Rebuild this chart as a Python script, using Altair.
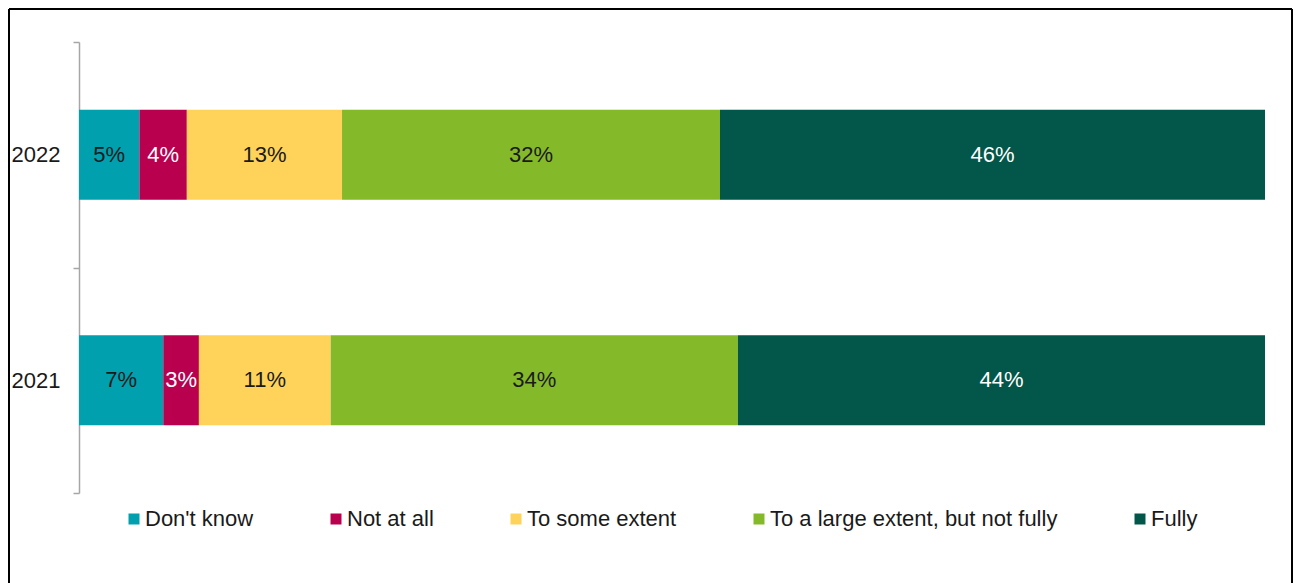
import altair as alt
import pandas as pd

years = ["2022", "2021"]
categories = ["Don't know", "Not at all", "To some extent", "To a large extent, but not fully", "Fully"]
values_2022 = [5.1, 4.0, 13.1, 31.9, 46.0]
values_2021 = [7.1, 3.0, 11.1, 34.3, 44.4]
colors = ["#00A0AF", "#B8004F", "#FFD35A", "#84B92A", "#03564A"]
white_text = ["Not at all", "Fully"]

rows = []
for yr, vals in zip(years, [values_2022, values_2021]):
    for i, (c, v) in enumerate(zip(categories, vals)):
        rows.append({"year": yr, "category": c, "value": v, "order": i})
df = pd.DataFrame(rows)

FONT = "Liberation Sans"
FS = 22
W, H = 1186, 451

base = alt.Chart(df).transform_stack(
    stack="value", groupby=["year"], as_=["x0", "x1"], offset="normalize",
    sort=[alt.SortField("order", order="ascending")]
).transform_calculate(
    mid="(datum.x0 + datum.x1) / 2",
    label="format(datum.value, '.0f') + '%'"
)

yenc = alt.Y("year:N", sort=years, title=None,
             scale=alt.Scale(paddingInner=0, paddingOuter=0),
             axis=alt.Axis(tickBand="extent", domainColor="#A6A6A6", tickColor="#A6A6A6",
                           domainWidth=1.5, tickWidth=1.5, tickSize=6, labelPadding=13,
                           labelFontSize=FS, labelFont=FONT, labelColor="#1a1a1a"))

xscale = alt.Scale(domain=[0, 1], nice=False, zero=False)

bars = base.mark_bar(height=alt.RelativeBandSize(0.4)).encode(
    x=alt.X("x0:Q", scale=xscale, axis=None),
    x2="x1:Q",
    y=yenc,
    color=alt.Color("category:N", scale=alt.Scale(domain=categories, range=colors),
                    sort=categories,
                    legend=alt.Legend(title=None, orient="none", direction="horizontal",
                                      legendX=44, legendY=466, symbolType="square",
                                      symbolSize=121, symbolStrokeWidth=0, labelFontSize=FS,
                                      labelFont=FONT, labelColor="#1a1a1a", labelOffset=0,
                                      columnPadding=71, padding=0, labelLimit=500)),
)

texts = base.mark_text(fontSize=FS, font=FONT).encode(
    x=alt.X("mid:Q", scale=xscale),
    y=alt.Y("year:N", sort=years),
    text="label:N",
    color=alt.condition(alt.FieldOneOfPredicate(field="category", oneOf=white_text),
                        alt.value("#FFFFFF"), alt.value("#1a1a1a")),
)

frame_df = pd.DataFrame({"side": ["l", "t", "r"]})
left = alt.Chart(frame_df).transform_filter("datum.side == 'l'").mark_rule(
    color="black", strokeWidth=2).encode(x=alt.value(-70), y=alt.value(-33), y2=alt.value(545))
top = alt.Chart(frame_df).transform_filter("datum.side == 't'").mark_rule(
    color="black", strokeWidth=2).encode(x=alt.value(-70), x2=alt.value(1213), y=alt.value(-33))
right = alt.Chart(frame_df).transform_filter("datum.side == 'r'").mark_rule(
    color="black", strokeWidth=2).encode(x=alt.value(1213), y=alt.value(-33), y2=alt.value(545))

chart = alt.layer(bars, texts, left, top, right).properties(
    width=W, height=H, padding=0, background="white"
).configure_view(strokeWidth=0, stroke=None)

chart.save("out.html", embed_options={"renderer": "svg", "actions": False})
